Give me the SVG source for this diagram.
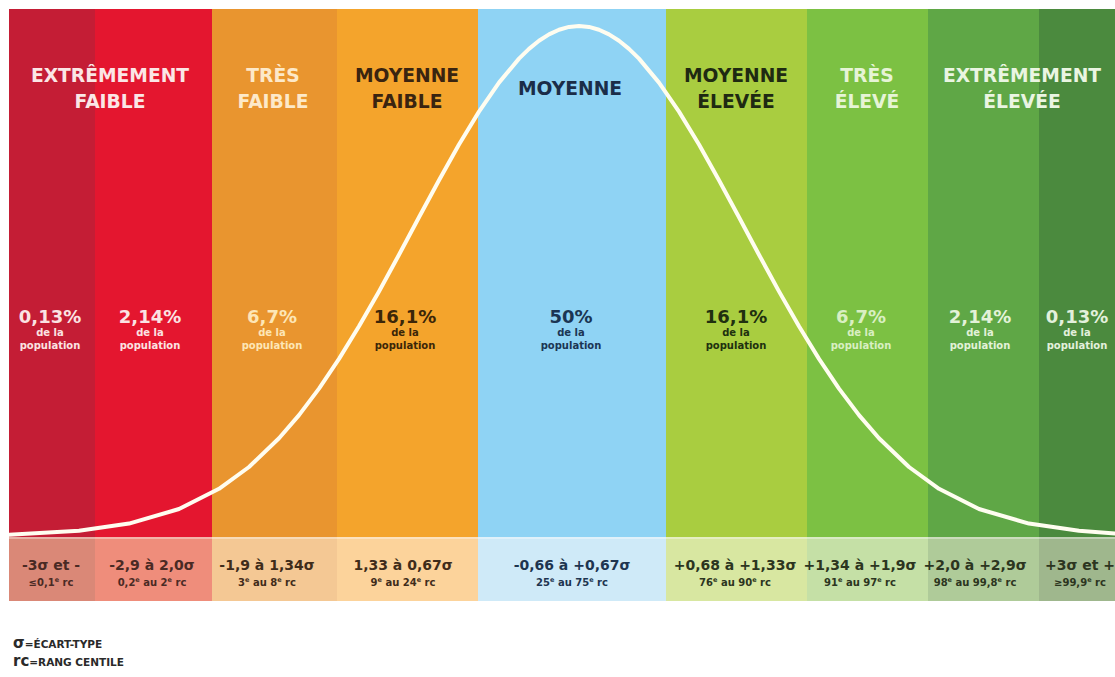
<svg xmlns="http://www.w3.org/2000/svg" width="1115" height="677" viewBox="0 0 1115 677">
<defs>
<style>
text{font-family:"DejaVu Sans","Liberation Sans",sans-serif;font-weight:bold;text-anchor:middle}
.h{font-size:18.7px}
.p{font-size:18px}
.s{font-size:10px}
.r1{font-size:14px}
.r2{font-size:10px}
.sup{font-size:6.5px}
.lg{text-anchor:start}
</style>
<clipPath id="main"><rect x="9" y="9" width="1106" height="528"/></clipPath>
</defs>
<rect x="0" y="0" width="1115" height="677" fill="#ffffff"/>

<g id="col1">
<rect x="9" y="9" width="86" height="528" fill="#c41d35"/>
<rect x="9" y="537" width="86" height="64" fill="#da8877"/>
</g>
<g id="col2">
<rect x="95" y="9" width="117" height="528" fill="#e4162f"/>
<rect x="95" y="537" width="117" height="64" fill="#ef8d7b"/>
</g>
<g id="col3">
<rect x="212" y="9" width="125" height="528" fill="#e9952f"/>
<rect x="212" y="537" width="125" height="64" fill="#f4c894"/>
</g>
<g id="col4">
<rect x="337" y="9" width="141" height="528" fill="#f4a42c"/>
<rect x="337" y="537" width="141" height="64" fill="#fcd39b"/>
</g>
<g id="col5">
<rect x="478" y="9" width="188" height="528" fill="#8fd3f4"/>
<rect x="478" y="537" width="188" height="64" fill="#cfeaf8"/>
</g>
<g id="col6">
<rect x="666" y="9" width="141" height="528" fill="#a9cd40"/>
<rect x="666" y="537" width="141" height="64" fill="#d8e7a1"/>
</g>
<g id="col7">
<rect x="807" y="9" width="121" height="528" fill="#7cc143"/>
<rect x="807" y="537" width="121" height="64" fill="#c5e0a6"/>
</g>
<g id="col8">
<rect x="928" y="9" width="111" height="528" fill="#5fa746"/>
<rect x="928" y="537" width="111" height="64" fill="#afcb99"/>
</g>
<g id="col9">
<rect x="1039" y="9" width="76" height="528" fill="#4b8a3e"/>
<rect x="1039" y="537" width="76" height="64" fill="#9fb78d"/>
</g>
<rect x="9" y="537" width="1106" height="2" fill="#ffffff" opacity="0.35"/>

<g id="connectors">
<path clip-path="url(#main)" fill="none" stroke="#fffdf0" stroke-width="4" stroke-linejoin="round" stroke-linecap="round"
d="M9,534.7 L79,530.8 L129,523.6 L179,509 L219,488.8 L249,467 L279,438.3 L299,415.1 L319,388.6 L339,358.9 L359,326.3 L379,291.4 L399,254.7 L419,217.3 L439,180.2 L459,144.5 L479,111.6 L499,82.6 L519,58.6 L529,48.9 L539,40.8 L549,34.4 L559,29.7 L569,26.9 L579,26 L589,26.9 L599,29.7 L609,34.4 L619,40.8 L629,48.9 L639,58.6 L659,82.6 L679,111.6 L699,144.5 L719,180.2 L739,217.3 L759,254.7 L779,291.4 L799,326.3 L819,358.9 L839,388.6 L859,415.1 L879,438.3 L909,467 L939,488.8 L979,509 L1029,523.6 L1079,530.8 L1115,533.6"/>
</g>

<g id="headers">
<text class="h" x="110" y="82" fill="#fbe6e6">EXTRÊMEMENT</text>
<text class="h" x="110" y="108" fill="#fbe6e6">FAIBLE</text>
<text class="h" x="273" y="82" fill="#fde9c9">TRÈS</text>
<text class="h" x="273" y="108" fill="#fde9c9">FAIBLE</text>
<text class="h" x="407" y="82" fill="#3a2410">MOYENNE</text>
<text class="h" x="407" y="108" fill="#3a2410">FAIBLE</text>
<text class="h" x="570" y="95" fill="#1b2d48">MOYENNE</text>
<text class="h" x="736" y="82" fill="#1f2a12">MOYENNE</text>
<text class="h" x="736" y="108" fill="#1f2a12">ÉLEVÉE</text>
<text class="h" x="867" y="82" fill="#e6f4d6">TRÈS</text>
<text class="h" x="867" y="108" fill="#e6f4d6">ÉLEVÉ</text>
<text class="h" x="1022" y="82" fill="#eaf5e2">EXTRÊMEMENT</text>
<text class="h" x="1022" y="108" fill="#eaf5e2">ÉLEVÉE</text>
</g>

<g id="percentages">
<g fill="#fbe3e3"><text class="p" x="50" y="323">0,13%</text><text class="s" x="50" y="336">de la</text><text class="s" x="50" y="349">population</text></g>
<g fill="#fbe3e3"><text class="p" x="150" y="323">2,14%</text><text class="s" x="150" y="336">de la</text><text class="s" x="150" y="349">population</text></g>
<g fill="#fde6b6"><text class="p" x="272" y="323">6,7%</text><text class="s" x="272" y="336">de la</text><text class="s" x="272" y="349">population</text></g>
<g fill="#3b2608"><text class="p" x="405" y="323">16,1%</text><text class="s" x="405" y="336">de la</text><text class="s" x="405" y="349">population</text></g>
<g fill="#1b3553"><text class="p" x="571" y="323">50%</text><text class="s" x="571" y="336">de la</text><text class="s" x="571" y="349">population</text></g>
<g fill="#20300f"><text class="p" x="736" y="323">16,1%</text><text class="s" x="736" y="336">de la</text><text class="s" x="736" y="349">population</text></g>
<g fill="#d9efc2"><text class="p" x="861" y="323">6,7%</text><text class="s" x="861" y="336">de la</text><text class="s" x="861" y="349">population</text></g>
<g fill="#e3f2d8"><text class="p" x="980" y="323">2,14%</text><text class="s" x="980" y="336">de la</text><text class="s" x="980" y="349">population</text></g>
<g fill="#e3f0dc"><text class="p" x="1077" y="323">0,13%</text><text class="s" x="1077" y="336">de la</text><text class="s" x="1077" y="349">population</text></g>
</g>

<g id="ranges">
<g fill="#4a2a24"><text class="r1" x="51" y="570">-3σ et -</text><text class="r2" x="51" y="586">≤0,1<tspan class="sup" dy="-4">e</tspan><tspan dy="4"> rc</tspan></text></g>
<g fill="#4a2a24"><text class="r1" x="152" y="570">-2,9 à 2,0σ</text><text class="r2" x="152" y="586">0,2<tspan class="sup" dy="-4">e</tspan><tspan dy="4"> au 2</tspan><tspan class="sup" dy="-4">e</tspan><tspan dy="4"> rc</tspan></text></g>
<g fill="#3f2c1a"><text class="r1" x="267" y="570">-1,9 à 1,34σ</text><text class="r2" x="267" y="586">3<tspan class="sup" dy="-4">e</tspan><tspan dy="4"> au 8</tspan><tspan class="sup" dy="-4">e</tspan><tspan dy="4"> rc</tspan></text></g>
<g fill="#3f2c1a"><text class="r1" x="403" y="570">1,33 à 0,67σ</text><text class="r2" x="403" y="586">9<tspan class="sup" dy="-4">e</tspan><tspan dy="4"> au 24</tspan><tspan class="sup" dy="-4">e</tspan><tspan dy="4"> rc</tspan></text></g>
<g fill="#1e3550"><text class="r1" x="572" y="570">-0,66 à +0,67σ</text><text class="r2" x="572" y="586">25<tspan class="sup" dy="-4">e</tspan><tspan dy="4"> au 75</tspan><tspan class="sup" dy="-4">e</tspan><tspan dy="4"> rc</tspan></text></g>
<g fill="#2c3520"><text class="r1" x="735" y="570">+0,68 à +1,33σ</text><text class="r2" x="735" y="586">76<tspan class="sup" dy="-4">e</tspan><tspan dy="4"> au 90</tspan><tspan class="sup" dy="-4">e</tspan><tspan dy="4"> rc</tspan></text></g>
<g fill="#2c3520"><text class="r1" x="860" y="570">+1,34 à +1,9σ</text><text class="r2" x="860" y="586">91<tspan class="sup" dy="-4">e</tspan><tspan dy="4"> au 97</tspan><tspan class="sup" dy="-4">e</tspan><tspan dy="4"> rc</tspan></text></g>
<g fill="#2c3520"><text class="r1" x="975" y="570">+2,0 à +2,9σ</text><text class="r2" x="975" y="586">98<tspan class="sup" dy="-4">e</tspan><tspan dy="4"> au 99,8</tspan><tspan class="sup" dy="-4">e</tspan><tspan dy="4"> rc</tspan></text></g>
<g fill="#2c3520"><text class="r1" x="1080" y="570">+3σ et +</text><text class="r2" x="1080" y="586">≥99,9<tspan class="sup" dy="-4">e</tspan><tspan dy="4"> rc</tspan></text></g>
</g>

<g id="legend" fill="#2a2a2a">
<text class="lg" x="13" y="648"><tspan font-size="15">σ</tspan><tspan font-size="10.5" dy="-0.5">=ÉCART-TYPE</tspan></text>
<text class="lg" x="13" y="666"><tspan font-size="15">rc</tspan><tspan font-size="10.5" dy="-0.5">=RANG CENTILE</tspan></text>
</g>
</svg>
